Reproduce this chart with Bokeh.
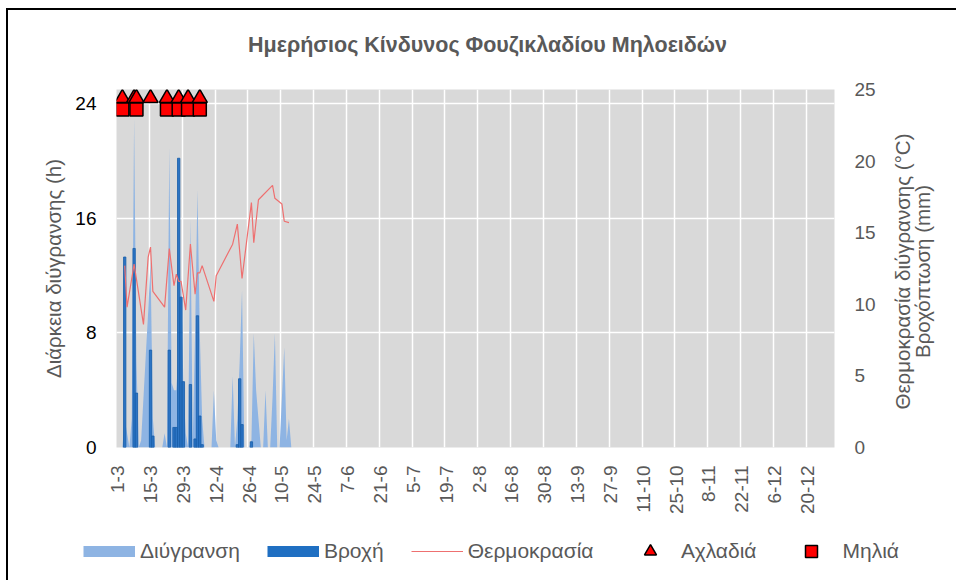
import math
from bokeh.plotting import figure
from bokeh.layouts import column, row
from bokeh.models import Range1d, LinearAxis, FixedTicker, Legend, LegendItem, Label
from bokeh.embed import file_html
from bokeh.resources import INLINE

# ---------------- data (day index 0 = 1-3) ----------------
wetness_h = [0, 0, 0, 2, 1, 0, 2, 23, 6, 0,
             0.5, 3.5, 6.5, 9.5, 13, 2, 0, 0, 0, 0,
             1, 0, 21, 4.5, 4, 4, 7, 12, 4.5, 1,
             0, 16, 0.5, 8, 18, 8, 2, 0, 0, 0,
             0, 4, 0.5, 0, 0, 0, 0, 0, 0, 5,
             0, 2, 6, 11, 0, 0, 0, 0.5, 8, 4,
             2, 0, 0, 4, 0, 0, 3.5, 8, 0, 0,
             3.5, 7, 0.5, 2, 0]
wet_day = list(range(len(wetness_h)))

rain_day = [3, 7, 8, 14, 15, 22, 24, 25, 26, 27, 28, 31, 33, 34, 35, 36, 51, 52, 53, 57]
rain_mm = [13.3, 13.9, 3.8, 6.8, 0.8, 6.8, 1.4, 1.4, 20.2, 10.5, 4.6, 4.4, 0.6, 9.2, 2.2, 0.2, 0.2, 4.8, 1.6, 0.4]

temp_day = [3, 4, 7, 11, 13, 14, 15, 20, 22, 24, 25, 26, 27, 29, 31, 33, 34, 35, 36,
            41, 42, 49, 51, 53, 57, 58, 60, 66, 67, 70, 71, 73]
temp_c = [12.7, 9.8, 12.8, 8.6, 13.3, 14.0, 10.9, 9.8, 13.9, 11.3, 12.1, 11.6, 11.6, 9.6, 14.2, 10.7, 12.2, 12.2, 12.7,
          10.2, 12.0, 14.2, 15.6, 11.8, 17.1, 14.3, 17.3, 18.3, 17.4, 17.0, 15.8, 15.7]

pear_day = [2, 7, 8, 14, 21, 26, 30, 35]
pear_level = [24.4] * len(pear_day)
apple_day = [2, 8, 21, 26, 30, 35]
apple_level = [23.6] * len(apple_day)

n_days = 306
tick_labels = ["1-3", "15-3", "29-3", "12-4", "26-4", "10-5", "24-5", "7-6", "21-6", "5-7", "19-7",
               "2-8", "16-8", "30-8", "13-9", "27-9", "11-10", "25-10", "8-11", "22-11", "6-12", "20-12"]
tick_step = 14
left_ticks = [0, 8, 16, 24]
right_ticks = [0, 5, 10, 15, 20, 25]

TITLE = "Ημερήσιος Κίνδυνος Φουζικλαδίου Μηλοειδών"
LEFT_LABEL = "Διάρκεια διύγρανσης (h)"
RIGHT_LABEL = "Θερμοκρασία διύγρανσης (°C)\nΒροχόπτωση (mm)"

FONT = "Liberation Sans"
GREY = "#595959"
WET_COLOR = "#8EB4E3"
RAIN_COLOR = "#2C74C4"
TEMP_COLOR = "#EE7070"


def strip(width, height, **borders):
    f = figure(width=width, height=height, output_backend="svg", toolbar_location=None, title=None,
               x_range=Range1d(0, 1), y_range=Range1d(0, 1), x_axis_type=None, y_axis_type=None,
               min_border_left=borders.get("left", 0), min_border_right=borders.get("right", 0),
               min_border_top=borders.get("top", 0), min_border_bottom=borders.get("bottom", 0))
    f.outline_line_color = None
    f.background_fill_color = "white"
    f.border_fill_color = "white"
    return f


# ---------------- title strip ----------------
pt = strip(948, 60)
pt.add_layout(Label(x=479, y=26, x_units="screen", y_units="screen", text=TITLE,
                    text_align="center", text_baseline="middle", text_font=FONT,
                    text_font_style="bold", text_font_size="21.5px", text_color=GREY))

# ---------------- main chart ----------------
p = figure(width=882, height=455, output_backend="svg", toolbar_location=None, title=None,
           x_range=Range1d(-0.5, n_days - 0.5), y_range=Range1d(0, 25),
           min_border_left=108, min_border_right=56, min_border_top=19, min_border_bottom=78)
p.extra_y_ranges = {"right": Range1d(0, 25)}
p.background_fill_color = "#D9D9D9"
p.border_fill_color = "white"
p.outline_line_color = None

p.xgrid.ticker = FixedTicker(ticks=[tick_step * k - 0.5 for k in range(1, 22)])
p.ygrid.ticker = FixedTicker(ticks=left_ticks)
for g in (p.xgrid, p.ygrid):
    g.grid_line_color = "white"
    g.grid_line_width = 1.5

xa = p.xaxis[0]
xa.ticker = FixedTicker(ticks=[tick_step * k for k in range(len(tick_labels))])
xa.major_label_overrides = {tick_step * k: lab for k, lab in enumerate(tick_labels)}
xa.major_label_orientation = math.pi / 2
xa.major_label_text_font = FONT
xa.major_label_text_font_size = "19px"
xa.major_label_text_color = GREY
xa.major_label_standoff = 12
xa.axis_line_color = None
xa.major_tick_line_color = None
xa.minor_tick_line_color = None

ya = p.yaxis[0]
ya.ticker = FixedTicker(ticks=left_ticks)
ya.axis_label = LEFT_LABEL
ya.axis_label_text_font = FONT
ya.axis_label_text_font_style = "normal"
ya.axis_label_text_font_size = "20.5px"
ya.axis_label_text_color = GREY
ya.axis_label_standoff = 7
ya.major_label_text_font = FONT
ya.major_label_text_font_size = "19px"
ya.major_label_text_color = "#000000"
ya.major_label_standoff = 14
ya.axis_line_color = None
ya.major_tick_line_color = None
ya.minor_tick_line_color = None

ra = LinearAxis(y_range_name="right", ticker=FixedTicker(ticks=right_ticks))
ra.major_label_text_font = FONT
ra.major_label_text_font_size = "19px"
ra.major_label_text_color = GREY
ra.major_label_standoff = 14
ra.axis_line_color = None
ra.major_tick_line_color = None
ra.minor_tick_line_color = None
p.add_layout(ra, "right")

p.varea(x=wet_day, y1=0, y2=wetness_h, fill_color=WET_COLOR)
p.vbar(x=rain_day, top=rain_mm, width=1.0, y_range_name="right",
       fill_color=RAIN_COLOR, line_color="#165DA8", line_width=0.8)
p.line(x=temp_day, y=temp_c, y_range_name="right", line_color=TEMP_COLOR, line_width=1.2)
p.scatter(x=pear_day, y=pear_level, marker="triangle", size=15,
          fill_color="#FF0000", line_color="#000000", line_width=1.5)
p.scatter(x=apple_day, y=apple_level, marker="square", size=13,
          fill_color="#FF0000", line_color="#000000", line_width=1.5)

# ---------------- right axis title strip ----------------
pr = strip(66, 455, top=19, bottom=78)
pr.add_layout(Label(x=22, y=176, x_units="screen", y_units="screen", text=RIGHT_LABEL, angle=math.pi / 2,
                    text_align="center", text_baseline="middle", text_font=FONT,
                    text_font_size="20.5px", text_line_height=0.85, text_color=GREY))

# ---------------- legend strip ----------------
pl = strip(948, 55)
off = [-5, -4]  # swatch renderers sit outside the visible range; only their legend glyphs show
sw_wet = pl.line(x=off, y=off, line_color=WET_COLOR, line_width=11)
sw_rain = pl.line(x=off, y=off, line_color="#1F6FC2", line_width=11)
sw_temp = pl.line(x=off, y=off, line_color=TEMP_COLOR, line_width=1.2)
sw_pear = pl.scatter(x=off, y=off, marker="triangle", fill_color="#FF0000", line_color="#000000", line_width=1.5)
sw_apple = pl.scatter(x=off, y=off, marker="square", fill_color="#FF0000", line_color="#000000", line_width=1.5)

leg_style = dict(orientation="horizontal", padding=0, margin=0, border_line_color=None,
                 background_fill_alpha=0, label_text_font=FONT, label_text_font_size="21px",
                 label_text_color=GREY, glyph_width=52, glyph_height=30, label_height=30,
                 label_standoff=5)
leg1 = Legend(items=[LegendItem(label="Διύγρανση", renderers=[sw_wet]),
                     LegendItem(label="Βροχή", renderers=[sw_rain]),
                     LegendItem(label="Θερμοκρασία", renderers=[sw_temp])],
              location=(75, 14), spacing=27, **leg_style)
leg2 = Legend(items=[LegendItem(label="Αχλαδιά", renderers=[sw_pear]),
                     LegendItem(label="Μηλιά", renderers=[sw_apple])],
              location=(616, 14), spacing=29, **leg_style)
pl.add_layout(leg1)
pl.add_layout(leg2)

part_title = column(pt, spacing=0,
                    styles={"border-left": "2px solid #000000", "border-top": "2px solid #000000",
                            "margin-left": "6px", "margin-top": "8px"})
part_main = column(row(p, pr, spacing=0), spacing=0,
                   styles={"border-left": "2px solid #000000", "margin-left": "6px"})
part_legend = column(pl, spacing=0,
                     styles={"border-left": "2px solid #000000", "margin-left": "6px"})

open("out.html", "w").write(file_html([part_title, part_main, part_legend], INLINE))
